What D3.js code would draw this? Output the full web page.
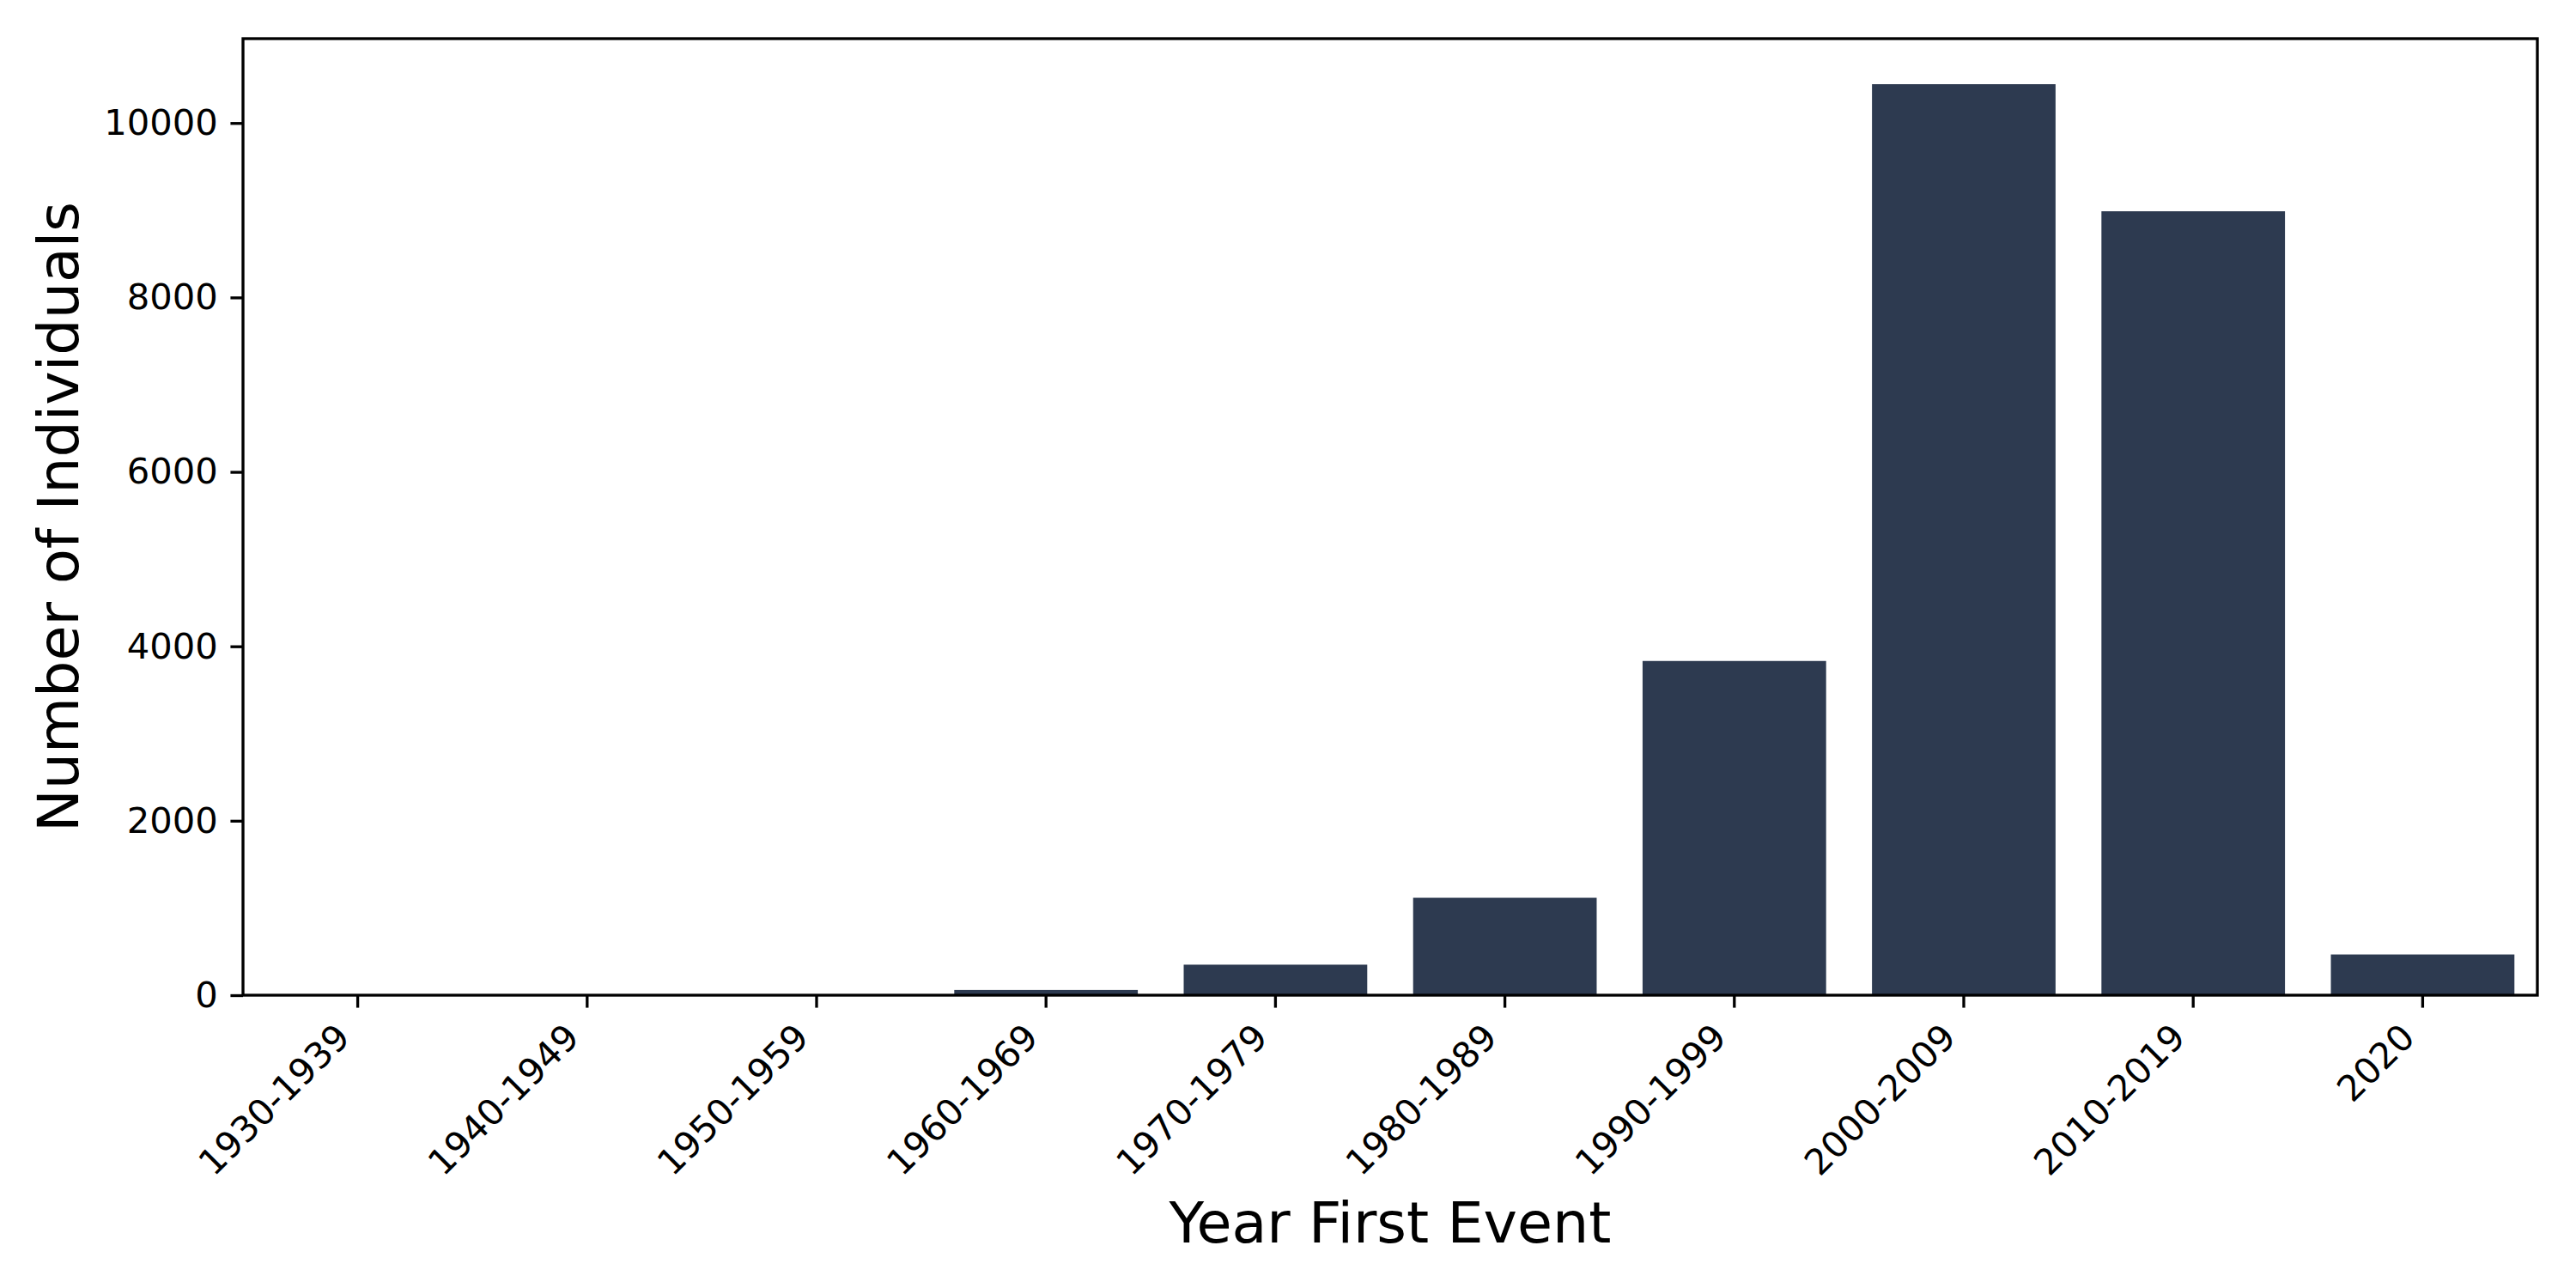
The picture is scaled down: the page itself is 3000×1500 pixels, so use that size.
<!DOCTYPE html>
<html lang="en">
<head>
    <meta charset="UTF-8">
    <title>Year First Event</title>
    <style>
        body { margin: 0; background: #fff; }
        svg { display: block; font-family: "DejaVu Sans", sans-serif; }
        .tick line { stroke: #000; stroke-width: 3.33px; }
        .tick text { fill: #000; font-size: 41.7px; font-family: "DejaVu Sans", sans-serif; }
        .axis-label { font-size: 66.7px; fill: #000; }
    </style>
</head>
<body>
    <svg width="3000" height="1500"></svg>

    <script src="https://d3js.org/d3.v7.min.js"></script>
    <script>
        // Data
        const decades = ["1930-1939", "1940-1949", "1950-1959", "1960-1969", "1970-1979",
                         "1980-1989", "1990-1999", "2000-2009", "2010-2019", "2020"];
        const counts = [1, 2, 4, 60, 350, 1117, 3832, 10445, 8988, 467];
        const yTicks = [0, 2000, 4000, 6000, 8000, 10000];

        const svg = d3.select("svg");
        const margin = { left: 283, right: 45, top: 45, bottom: 341 };
        const width = +svg.attr("width");
        const height = +svg.attr("height");
        const plotBottom = height - margin.bottom;
        const tickLen = 14.58, tickPad = 14.58;

        const data = decades.map((d, i) => ({ decade: d, count: counts[i] }));

        const x = d3.scaleBand()
            .domain(decades)
            .range([margin.left, width - margin.right])
            .paddingInner(0.2)
            .paddingOuter(0.1);

        // matplotlib-style 5% headroom above the tallest bar
        const y = d3.scaleLinear()
            .domain([0, d3.max(counts) * 1.05])
            .range([plotBottom, margin.top]);

        // bars
        svg.append("g")
            .selectAll("rect")
            .data(data)
            .enter().append("rect")
            .attr("x", d => x(d.decade))
            .attr("width", x.bandwidth())
            .attr("y", d => y(d.count))
            .attr("height", d => y(0) - y(d.count))
            .attr("fill", "#2d3a50");

        // y axis
        const yAxis = svg.append("g")
            .attr("transform", `translate(${margin.left},0)`)
            .call(d3.axisLeft(y).tickValues(yTicks).tickFormat(d3.format("d"))
                .tickSize(tickLen).tickPadding(tickPad).tickSizeOuter(0));
        yAxis.select(".domain").remove();
        yAxis.attr("font-family", null);

        // x axis with rotated labels (right edge of label box under the tick)
        const xAxis = svg.append("g")
            .attr("transform", `translate(0,${plotBottom})`)
            .call(d3.axisBottom(x).tickSize(tickLen).tickPadding(tickPad).tickSizeOuter(0));
        xAxis.select(".domain").remove();
        xAxis.attr("font-family", null);
        const fs = 41.7, asc = 0.76 * fs, desc = 0.236 * fs, k = Math.SQRT1_2;
        xAxis.selectAll(".tick text")
            .attr("x", 0).attr("y", 0).attr("dy", 0)
            .attr("text-anchor", "end")
            .attr("transform", `translate(${-k * desc},${tickLen + tickPad + k * asc}) rotate(-45)`);

        // frame (all four spines)
        svg.append("rect")
            .attr("x", margin.left)
            .attr("y", margin.top)
            .attr("width", width - margin.left - margin.right)
            .attr("height", plotBottom - margin.top)
            .attr("fill", "none")
            .attr("stroke", "#000")
            .attr("stroke-width", 3.33);

        // axis titles
        svg.append("text")
            .attr("class", "axis-label")
            .attr("x", (margin.left + width - margin.right) / 2)
            .attr("y", 1447)
            .attr("text-anchor", "middle")
            .text("Year First Event");

        svg.append("text")
            .attr("class", "axis-label")
            .attr("transform", `translate(91,${(margin.top + plotBottom) / 2}) rotate(-90)`)
            .attr("text-anchor", "middle")
            .text("Number of Individuals");
    </script>
</body>
</html>
